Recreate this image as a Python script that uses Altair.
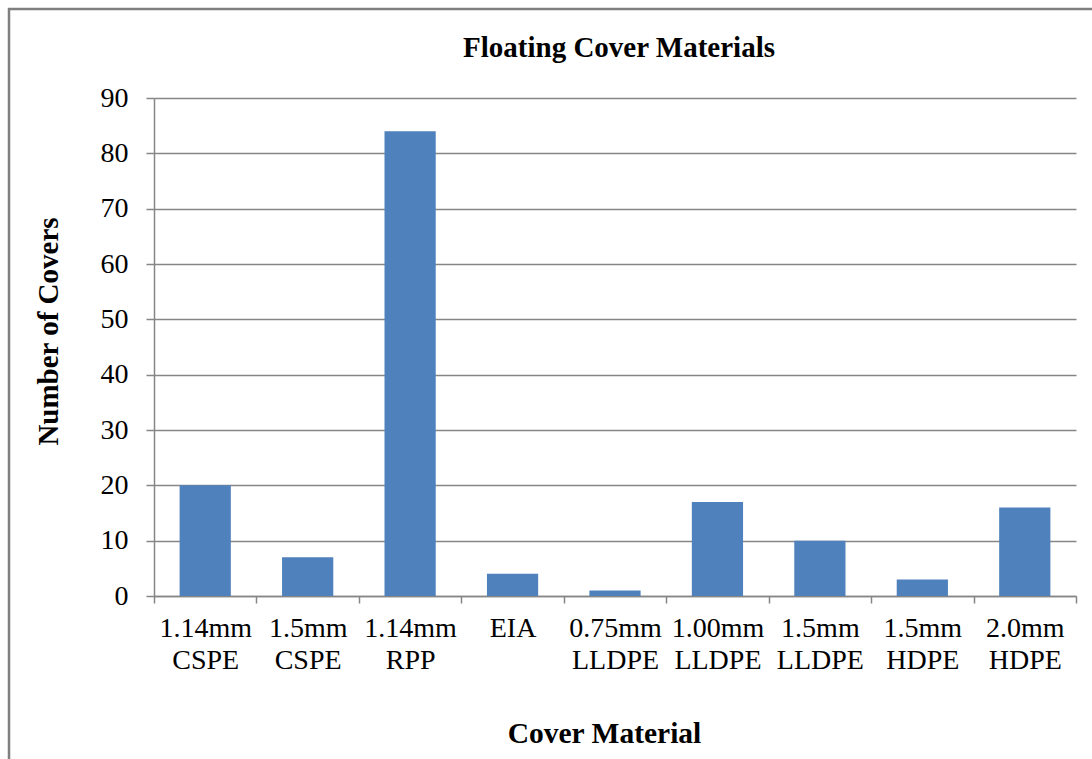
import altair as alt
import pandas as pd

# Floating cover survey: number of covers by membrane material
materials = [
    "1.14mm CSPE", "1.5mm CSPE", "1.14mm RPP", "EIA", "0.75mm LLDPE",
    "1.00mm LLDPE", "1.5mm LLDPE", "1.5mm HDPE", "2.0mm HDPE",
]
covers = [20, 7, 84, 4, 1, 17, 10, 3, 16]
y_ticks = [0, 10, 20, 30, 40, 50, 60, 70, 80, 90]

df = pd.DataFrame({"material": materials, "covers": covers})

FONT = "Liberation Serif"
GRID = "#868686"
W, H = 922, 498

bars = alt.Chart(df).mark_bar(
    color="#4F81BD", width=alt.RelativeBandSize(0.5)
).encode(
    x=alt.X(
        "material:N",
        sort=materials,
        scale=alt.Scale(paddingInner=0, paddingOuter=0),
        axis=alt.Axis(
            title="Cover Material",
            titleFont=FONT, titleFontSize=29.5, titleFontWeight="bold",
            titleColor="black",
            titleX=450, titleY=146, titleBaseline="alphabetic",
            labelFont=FONT, labelFontSize=28, labelColor="black",
            labelAngle=0, labelPadding=11, labelLineHeight=32,
            labelExpr="split(datum.label, ' ')",
            tickBand="extent", tickSize=7, tickColor=GRID, tickWidth=1.5,
            domainColor=GRID, domainWidth=1.5,
        ),
    ),
    y=alt.Y(
        "covers:Q",
        scale=alt.Scale(domain=[0, 90], nice=False),
        axis=alt.Axis(
            title="Number of Covers",
            values=y_ticks,
            titleFont=FONT, titleFontSize=29, titleFontWeight="bold",
            titleColor="black",
            titleX=-106, titleY=233, titleAngle=-90,
            titleAlign="center", titleBaseline="middle",
            labelFont=FONT, labelFontSize=28, labelColor="black",
            labelPadding=18,
            grid=True, gridColor=GRID, gridWidth=1.5,
            tickSize=8, tickColor=GRID, tickWidth=1.5,
            domainColor=GRID, domainWidth=1.5,
        ),
    ),
)

# Outer chart frame
frame = alt.Chart(pd.DataFrame({"f": [0]})).mark_rect(
    fill=None, stroke="#7f7f7f", strokeWidth=2.5
).encode(
    x=alt.value(-145), x2=alt.value(W + 60),
    y=alt.value(-89), y2=alt.value(H + 250),
)

chart = alt.layer(frame, bars).properties(
    width=W,
    height=H,
    title=alt.TitleParams(
        "Floating Cover Materials",
        font=FONT, fontSize=29, fontWeight="bold", color="black",
        anchor="middle", baseline="alphabetic", offset=-78, dx=4,
    ),
    autosize=alt.AutoSizeParams(type="none"),
    padding={"left": 154, "top": 98, "right": 16, "bottom": 163},
    background="white",
).configure_view(stroke=None)

chart.save("out.html", embed_options={"renderer": "svg", "actions": False})
